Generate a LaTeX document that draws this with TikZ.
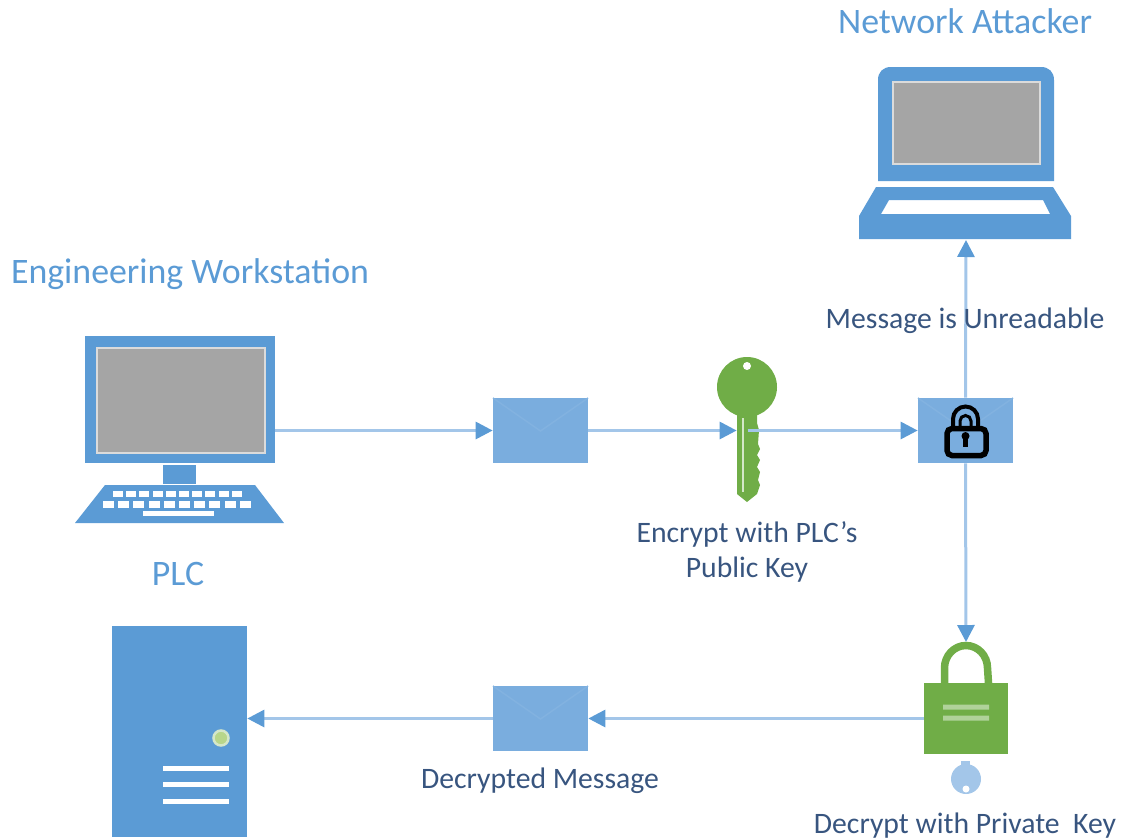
\documentclass[tikz,border=0pt]{standalone}
\usepackage{fontspec}
\setmainfont{Carlito}
\usetikzlibrary{arrows.meta}
\definecolor{iconblue}{HTML}{5B9BD5}
\definecolor{mailblue}{HTML}{7AADDE}
\definecolor{flapblue}{HTML}{82B2E0}
\definecolor{wireblue}{HTML}{A3C6E9}
\definecolor{keygreen}{HTML}{70AD47}
\definecolor{screengray}{HTML}{A5A5A5}
\definecolor{labelblue}{HTML}{38557F}
\tikzset{
  title/.style={text=iconblue,font=\fontsize{20.4}{24}\selectfont,inner sep=0pt},
  caption/.style={text=labelblue,font=\fontsize{16.9}{19.9}\selectfont,inner sep=0pt,align=center},
  mail/.style={fill=mailblue,minimum width=1.9cm,minimum height=1.3cm,inner sep=0pt},
  wire/.style={draw=wireblue,line width=0.06cm,-{Triangle[length=0.34cm,width=0.34cm,color=iconblue]}},
  screen/.style={fill=screengray,draw=white!60!screengray,line width=0.05cm,inner sep=0pt}
}
\begin{document}
\begin{tikzpicture}[x=0.02cm,y=-0.02cm]
\useasboundingbox (0,0) rectangle (1125,839);
% Titles
\node[title] (tattacker) at (965,21) {Network Attacker};
\node[title] (tews) at (190,274) {Engineering Workstation};
\node[title] (tplc) at (178,574) {PLC};
% Workstation
\node[fill=iconblue,minimum width=3.8cm,minimum height=2.54cm,inner sep=0pt] (ews) at (180,399.5) {};
\node[screen,minimum width=3.36cm,minimum height=2.1cm] (ewsscreen) at (181,400.5) {};
\node[fill=iconblue,minimum width=0.66cm,minimum height=0.38cm,inner sep=0pt] (ewsstand) at (179.5,474) {};
\fill[iconblue] (105,485) -- (255,485) -- (284,523) -- (75,523) -- cycle;
\foreach \i in {0,...,9} {
  \fill[white] (113+13.2*\i,491) rectangle +(10,6);
  \fill[white] (103+15.2*\i,501) rectangle +(11,6.5);
}
\fill[white] (143,510.5) rectangle (214,516);
% Laptop
\fill[iconblue] (878,181) -- (878,80) .. controls (878,72) and (883,67) .. (891,67) -- (1041,67) .. controls (1049,67) and (1054,72) .. (1054,80) -- (1054,181) -- cycle;
\node[screen,minimum width=2.94cm,minimum height=1.64cm] (lapscreen) at (966.5,123) {};
\fill[iconblue,even odd rule] (876,187) -- (1053,187) -- (1071,216) -- (1071,239) -- (859,239) -- (859,216) -- cycle
  (889,200) -- (1043,200) -- (1050,214) -- (881,214) -- cycle;
\coordinate (lapbase) at (966,240);
% Server
\node[fill=iconblue,minimum width=2.7cm,minimum height=4.22cm,inner sep=0pt] (plc) at (179.5,731.5) {};
\node[circle,fill=keygreen!55!white!90!yellow,draw=white!35!keygreen!45!white,line width=0.05cm,minimum size=0.3cm,inner sep=0pt] (led) at (221,738) {};
\foreach \y in {768,784,801}
  \fill[white] (163,\y-2.5) rectangle (229,\y+2.5);
% Mails
\node[mail] (mailplain) at (540.5,430.5) {};
\draw[flapblue,line width=0.03cm] (493,398) -- (540.5,431) -- (588,398);
\node[mail] (maildec) at (540.5,718.5) {};
\draw[flapblue,line width=0.03cm] (493,686) -- (540.5,719) -- (588,686);
\node[mail] (maillock) at (965.5,430.5) {};
\draw[flapblue,line width=0.03cm] (918,398) -- (965.5,431) -- (1013,398);
% Green key
\fill[keygreen] (747,387) circle (30);
\fill[white] (747,366) circle (4);
\node[minimum width=0.42cm,minimum height=1.6cm,inner sep=0pt] (keyshaft) at (747.5,455) {};
\fill[keygreen] (737,410) -- (757,410) -- (757,423) -- (759,430) -- (758,444) -- (760,449) -- (757,455) -- (760,460) -- (757,467) -- (760,472) -- (758,480) -- (760,485) -- (757,494) -- (747,502) -- (737,494) -- cycle;
\draw[white!70!keygreen,line width=0.03cm] (743,418) -- (743,492);
% Connectors
\draw[wire] (ews.east|-mailplain) -- (mailplain.west);
\draw[wire] (mailplain.east) -- (keyshaft.west|-mailplain);
\draw[wire] (keyshaft.center|-mailplain) -- (maillock.west);
\draw[wire] (maillock.north) -- (lapbase);
% Green lock
\node[fill=keygreen,minimum width=1.68cm,minimum height=1.42cm,inner sep=0pt] (greenlock) at (966,718.5) {};
\draw[keygreen,line width=0.15cm] (944.5,683) -- (944.5,668) arc[start angle=180,end angle=0,x radius=21.5,y radius=-22.5] -- (988.5,683);
\fill[white!45!keygreen] (943,704.5) rectangle (989,709.5) (943,715.5) rectangle (989,720.5);
\coordinate (locktop) at (966,642);
\draw[wire] (maillock.south) -- (locktop);
\draw[wire] (greenlock.west) -- (maildec.east);
\draw[wire] (maildec.west) -- (plc.east|-maildec);
% Small key under lock
\fill[wireblue] (966,779) circle (15);
\fill[wireblue] (961,761) rectangle (970,768);
\fill[white] (966,789) circle (3.5);
% Black padlock
\draw[black,line width=0.11cm,rounded corners=0.1cm] (947,428.5) rectangle (986,455.5);
\draw[black,line width=0.08cm] (953,428) -- (953,419) arc[start angle=180,end angle=0,x radius=12.5,y radius=-12.5] -- (978,428);
\draw[black,line width=0.06cm] (960,428) -- (960,421) arc[start angle=180,end angle=0,x radius=5.5,y radius=-5.5] -- (971,428);
\fill[black] (965.5,436) circle (4);
\fill[black] (963,437) rectangle (968,447);
% Labels
\node[caption] (tunread) at (965,321) {Message is Unreadable};
\node[caption] (tencrypt) at (747,552) {Encrypt with PLC’s\\Public Key};
\node[caption] (tdecmsg) at (540,781) {Decrypted Message};
\node[caption] (tdeckey) at (965,826) {Decrypt with Private\ \ Key};
\end{tikzpicture}
\end{document}
